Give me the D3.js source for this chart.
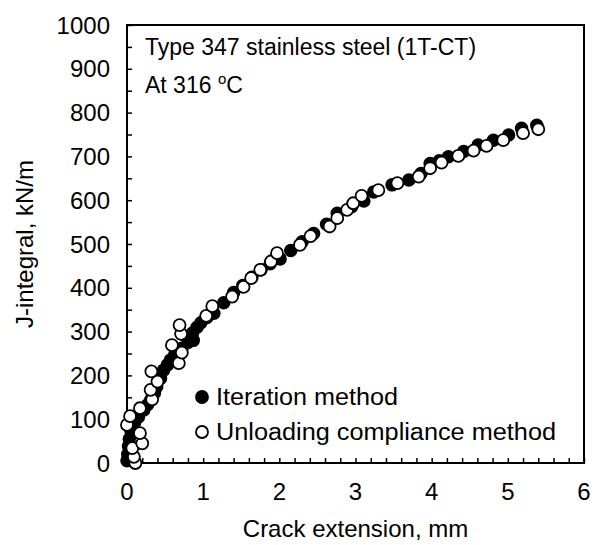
<!DOCTYPE html>
<html>
<head>
<meta charset="utf-8">
<script src="https://d3js.org/d3.v7.min.js"></script>
<style>
  body { margin: 0; background: #fff; }
  text { font-family: "Liberation Sans", Arial, sans-serif; fill: #000; }
</style>
</head>
<body>
<svg id="chart" width="600" height="545"></svg>
<script>
// crack extension (mm), J (kN/m)
const iterX = [0, 0.01, 0.02, 0.03, 0.05, 0.1, 0.15, 0.22, 0.27, 0.31, 0.36, 0.39, 0.44, 0.48, 0.53, 0.57, 0.63, 0.72, 0.8, 0.87, 0.86, 0.92, 0.97, 1.05, 1.14, 1.27, 1.40, 1.52, 1.64, 1.76, 1.88, 2.01, 2.15, 2.30, 2.45, 2.62, 2.76, 2.95, 3.11, 3.24, 3.48, 3.70, 3.86, 3.98, 4.10, 4.22, 4.42, 4.61, 4.81, 5.01, 5.18, 5.38];
const iterJ = [5, 20, 38, 55, 75, 92, 105, 121, 133, 144, 160, 174, 193, 212, 224, 235, 248, 262, 275, 280, 297, 310, 320, 332, 342, 366, 389, 405, 424, 441, 455, 466, 485, 505, 524, 545, 570, 585, 598, 619, 635, 646, 661, 684, 690, 699, 711, 726, 737, 749, 764, 771];

const unlX = [0.11, 0.09, 0.07, 0.20, 0.17, 0.0, 0.04, 0.17, 0.33, 0.31, 0.40, 0.32, 0.68, 0.72, 0.59, 0.71, 0.69, 1.04, 1.12, 1.38, 1.53, 1.63, 1.75, 1.89, 1.97, 2.27, 2.41, 2.66, 2.76, 2.89, 2.97, 3.08, 3.30, 3.55, 3.83, 3.98, 4.13, 4.35, 4.55, 4.72, 4.94, 5.20, 5.40];
const unlJ = [0, 14, 34, 45, 68, 87, 107, 125, 145, 167, 186, 209, 228, 252, 269, 295, 315, 336, 358, 380, 402, 422, 441, 460, 479, 498, 518, 540, 559, 578, 593, 610, 623, 639, 654, 673, 686, 701, 713, 724, 737, 753, 762];

const xTicks = [0, 1, 2, 3, 4, 5, 6];
const yTicks = [0, 100, 200, 300, 400, 500, 600, 700, 800, 900, 1000];
const seriesNames = ["Iteration method", "Unloading compliance method"];

const svg = d3.select("#chart");
const margin = {top: 25, right: 16, bottom: 82, left: 127};
const width = 600 - margin.left - margin.right;
const height = 545 - margin.top - margin.bottom;

const g = svg.append("g").attr("transform", "translate(" + margin.left + "," + margin.top + ")");

const x = d3.scaleLinear().domain([0, 6]).range([0, width]);
const y = d3.scaleLinear().domain([0, 1000]).range([height, 0]);

// minor ticks, inward
g.append("g")
  .attr("transform", "translate(0," + height + ")")
  .call(d3.axisBottom(x).tickValues(d3.range(0, 6.01, 0.2)).tickSize(-5).tickFormat(""))
  .call(a => a.select(".domain").remove())
  .selectAll("line").attr("stroke", "#000").attr("stroke-width", 1.5);
g.append("g")
  .call(d3.axisLeft(y).tickValues(d3.range(0, 1001, 50)).tickSize(-5).tickFormat(""))
  .call(a => a.select(".domain").remove())
  .selectAll("line").attr("stroke", "#000").attr("stroke-width", 1.5);

// tick labels
g.selectAll(".xl").data(xTicks).enter().append("text")
  .attr("x", d => x(d)).attr("y", height + 37)
  .attr("text-anchor", "middle").attr("font-size", 24).text(d => d);
g.selectAll(".yl").data(yTicks).enter().append("text")
  .attr("x", -17).attr("y", d => y(d) + 8.5)
  .attr("text-anchor", "end").attr("font-size", 24).text(d => d);

// frame
g.append("rect").attr("width", width).attr("height", height)
  .attr("fill", "none").attr("stroke", "#000").attr("stroke-width", 2);

// axis titles
g.append("text").attr("x", width / 2).attr("y", height + 74)
  .attr("text-anchor", "middle").attr("font-size", 24).text("Crack extension, mm");
g.append("text").attr("transform", "translate(-94," + (height / 2) + ") rotate(-90)")
  .attr("text-anchor", "middle").attr("font-size", 24).text("J-integral, kN/m");

// annotation
g.append("text").attr("x", 18).attr("y", 30).attr("font-size", 23)
  .text("Type 347 stainless steel (1T-CT)");
const t2 = g.append("text").attr("x", 18).attr("y", 68).attr("font-size", 23);
t2.append("tspan").text("At 316 ");
t2.append("tspan").attr("font-size", 15).attr("dy", -9).text("o");
t2.append("tspan").attr("dy", 9).text("C");

// points
const r = 6;
g.selectAll(".it").data(iterX.map((d, i) => [d, iterJ[i]])).enter().append("circle")
  .attr("cx", d => x(d[0])).attr("cy", d => y(d[1])).attr("r", r)
  .attr("fill", "#000").attr("stroke", "#000").attr("stroke-width", 1.5);
g.selectAll(".un").data(unlX.map((d, i) => [d, unlJ[i]])).enter().append("circle")
  .attr("cx", d => x(d[0])).attr("cy", d => y(d[1])).attr("r", r)
  .attr("fill", "#fff").attr("stroke", "#000").attr("stroke-width", 1.8);

// legend
const legendW = [182, 340];
const lg = g.append("g").attr("transform", "translate(75,372)");
seriesNames.forEach((name, i) => {
  lg.append("circle").attr("cx", 0).attr("cy", i * 35).attr("r", r)
    .attr("fill", i === 0 ? "#000" : "#fff").attr("stroke", "#000").attr("stroke-width", 1.8);
  lg.append("text").attr("x", 14).attr("y", i * 35 + 8).attr("font-size", 23)
    .attr("textLength", legendW[i]).attr("lengthAdjust", "spacingAndGlyphs").text(name);
});
</script>
</body>
</html>
